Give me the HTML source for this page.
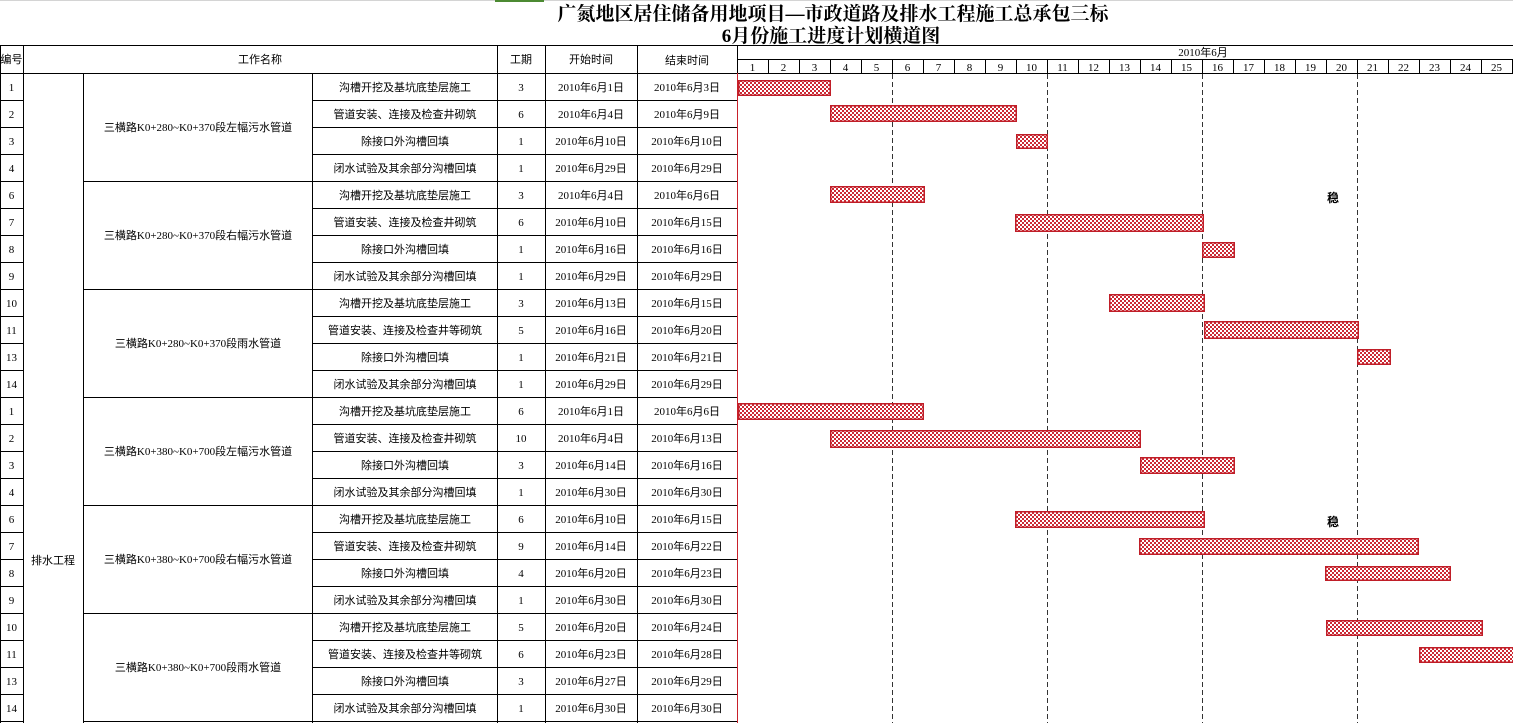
<!DOCTYPE html>
<html><head><meta charset="utf-8">
<style>
html,body{margin:0;padding:0;background:#fff;}
svg{display:block;}
.t{font-family:"Liberation Serif","Noto Sans CJK SC",sans-serif;font-size:11px;fill:#000;text-anchor:middle;}
.h{font-family:"Liberation Serif","Noto Serif CJK SC",serif;font-size:19px;font-weight:bold;fill:#000;text-anchor:middle;}
</style></head>
<body>
<svg width="1513" height="723" viewBox="0 0 1513 723" xmlns="http://www.w3.org/2000/svg">
<defs>
<pattern id="p" width="4" height="4" patternUnits="userSpaceOnUse">
<rect width="4" height="4" fill="#fff"/>
<rect x="0" y="0" width="2" height="2" fill="#cc2a35"/>
<rect x="2" y="2" width="2" height="2" fill="#cc2a35"/>
</pattern>
</defs>
<rect x="0" y="0" width="1513" height="1" fill="#d4d4d4"/>
<rect x="495" y="0" width="49" height="2" fill="#4c8a32"/>

<text class="h" x="833" y="20">广氮地区居住储备用地项目—市政道路及排水工程施工总承包三标</text>
<text class="h" x="831" y="42">6月份施工进度计划横道图</text>

<g stroke="#000" stroke-width="1" shape-rendering="crispEdges" fill="none">
<line x1="0" y1="45.5" x2="1513" y2="45.5"/>
<line x1="0" y1="73.5" x2="1513" y2="73.5"/>
<line x1="737" y1="59.5" x2="1513" y2="59.5"/>
<line x1="0.5" y1="45" x2="0.5" y2="723"/>
<line x1="23.5" y1="45" x2="23.5" y2="723"/>
<line x1="83.5" y1="73" x2="83.5" y2="723"/>
<line x1="312.5" y1="73" x2="312.5" y2="723"/>
<line x1="497.5" y1="45" x2="497.5" y2="723"/>
<line x1="545.5" y1="45" x2="545.5" y2="723"/>
<line x1="637.5" y1="45" x2="637.5" y2="723"/>
<line x1="737.5" y1="45" x2="737.5" y2="73"/>
<line x1="768.5" y1="59" x2="768.5" y2="73"/><line x1="799.5" y1="59" x2="799.5" y2="73"/><line x1="830.5" y1="59" x2="830.5" y2="73"/><line x1="861.5" y1="59" x2="861.5" y2="73"/><line x1="892.5" y1="59" x2="892.5" y2="73"/>
<line x1="923.5" y1="59" x2="923.5" y2="73"/><line x1="954.5" y1="59" x2="954.5" y2="73"/><line x1="985.5" y1="59" x2="985.5" y2="73"/><line x1="1016.5" y1="59" x2="1016.5" y2="73"/><line x1="1047.5" y1="59" x2="1047.5" y2="73"/>
<line x1="1078.5" y1="59" x2="1078.5" y2="73"/><line x1="1109.5" y1="59" x2="1109.5" y2="73"/><line x1="1140.5" y1="59" x2="1140.5" y2="73"/><line x1="1171.5" y1="59" x2="1171.5" y2="73"/><line x1="1202.5" y1="59" x2="1202.5" y2="73"/>
<line x1="1233.5" y1="59" x2="1233.5" y2="73"/><line x1="1264.5" y1="59" x2="1264.5" y2="73"/><line x1="1295.5" y1="59" x2="1295.5" y2="73"/><line x1="1326.5" y1="59" x2="1326.5" y2="73"/><line x1="1357.5" y1="59" x2="1357.5" y2="73"/>
<line x1="1388.5" y1="59" x2="1388.5" y2="73"/><line x1="1419.5" y1="59" x2="1419.5" y2="73"/><line x1="1450.5" y1="59" x2="1450.5" y2="73"/><line x1="1481.5" y1="59" x2="1481.5" y2="73"/><line x1="1512.5" y1="59" x2="1512.5" y2="73"/>
<line x1="0" y1="100.5" x2="23" y2="100.5"/><line x1="312" y1="100.5" x2="737" y2="100.5"/>
<line x1="0" y1="127.5" x2="23" y2="127.5"/><line x1="312" y1="127.5" x2="737" y2="127.5"/>
<line x1="0" y1="154.5" x2="23" y2="154.5"/><line x1="312" y1="154.5" x2="737" y2="154.5"/>
<line x1="0" y1="181.5" x2="23" y2="181.5"/><line x1="83" y1="181.5" x2="737" y2="181.5"/>
<line x1="0" y1="208.5" x2="23" y2="208.5"/><line x1="312" y1="208.5" x2="737" y2="208.5"/>
<line x1="0" y1="235.5" x2="23" y2="235.5"/><line x1="312" y1="235.5" x2="737" y2="235.5"/>
<line x1="0" y1="262.5" x2="23" y2="262.5"/><line x1="312" y1="262.5" x2="737" y2="262.5"/>
<line x1="0" y1="289.5" x2="23" y2="289.5"/><line x1="83" y1="289.5" x2="737" y2="289.5"/>
<line x1="0" y1="316.5" x2="23" y2="316.5"/><line x1="312" y1="316.5" x2="737" y2="316.5"/>
<line x1="0" y1="343.5" x2="23" y2="343.5"/><line x1="312" y1="343.5" x2="737" y2="343.5"/>
<line x1="0" y1="370.5" x2="23" y2="370.5"/><line x1="312" y1="370.5" x2="737" y2="370.5"/>
<line x1="0" y1="397.5" x2="23" y2="397.5"/><line x1="83" y1="397.5" x2="737" y2="397.5"/>
<line x1="0" y1="424.5" x2="23" y2="424.5"/><line x1="312" y1="424.5" x2="737" y2="424.5"/>
<line x1="0" y1="451.5" x2="23" y2="451.5"/><line x1="312" y1="451.5" x2="737" y2="451.5"/>
<line x1="0" y1="478.5" x2="23" y2="478.5"/><line x1="312" y1="478.5" x2="737" y2="478.5"/>
<line x1="0" y1="505.5" x2="23" y2="505.5"/><line x1="83" y1="505.5" x2="737" y2="505.5"/>
<line x1="0" y1="532.5" x2="23" y2="532.5"/><line x1="312" y1="532.5" x2="737" y2="532.5"/>
<line x1="0" y1="559.5" x2="23" y2="559.5"/><line x1="312" y1="559.5" x2="737" y2="559.5"/>
<line x1="0" y1="586.5" x2="23" y2="586.5"/><line x1="312" y1="586.5" x2="737" y2="586.5"/>
<line x1="0" y1="613.5" x2="23" y2="613.5"/><line x1="83" y1="613.5" x2="737" y2="613.5"/>
<line x1="0" y1="640.5" x2="23" y2="640.5"/><line x1="312" y1="640.5" x2="737" y2="640.5"/>
<line x1="0" y1="667.5" x2="23" y2="667.5"/><line x1="312" y1="667.5" x2="737" y2="667.5"/>
<line x1="0" y1="694.5" x2="23" y2="694.5"/><line x1="312" y1="694.5" x2="737" y2="694.5"/>
<line x1="0" y1="721.5" x2="23" y2="721.5"/><line x1="83" y1="721.5" x2="737" y2="721.5"/>
</g>
<line x1="737.5" y1="73" x2="737.5" y2="723" stroke="#c8202a" stroke-width="1" shape-rendering="crispEdges"/>
<g stroke="#333" stroke-width="1" stroke-dasharray="5,3" shape-rendering="crispEdges">
<line x1="892.5" y1="74" x2="892.5" y2="723"/>
<line x1="1047.5" y1="74" x2="1047.5" y2="723"/>
<line x1="1202.5" y1="74" x2="1202.5" y2="723"/>
<line x1="1357.5" y1="74" x2="1357.5" y2="723"/>
</g>

<text class="t" x="11.5" y="63">编号</text>
<text class="t" x="260" y="63">工作名称</text>
<text class="t" x="521" y="63">工期</text>
<text class="t" x="591" y="63">开始时间</text>
<text class="t" x="687" y="64">结束时间</text>
<text class="t" x="1203" y="56">2010年6月</text>
<g class="t">
<text class="t" x="752.5" y="71">1</text><text class="t" x="783.5" y="71">2</text><text class="t" x="814.5" y="71">3</text><text class="t" x="845.5" y="71">4</text><text class="t" x="876.5" y="71">5</text>
<text class="t" x="907.5" y="71">6</text><text class="t" x="938.5" y="71">7</text><text class="t" x="969.5" y="71">8</text><text class="t" x="1000.5" y="71">9</text><text class="t" x="1031.5" y="71">10</text>
<text class="t" x="1062.5" y="71">11</text><text class="t" x="1093.5" y="71">12</text><text class="t" x="1124.5" y="71">13</text><text class="t" x="1155.5" y="71">14</text><text class="t" x="1186.5" y="71">15</text>
<text class="t" x="1217.5" y="71">16</text><text class="t" x="1248.5" y="71">17</text><text class="t" x="1279.5" y="71">18</text><text class="t" x="1310.5" y="71">19</text><text class="t" x="1341.5" y="71">20</text>
<text class="t" x="1372.5" y="71">21</text><text class="t" x="1403.5" y="71">22</text><text class="t" x="1434.5" y="71">23</text><text class="t" x="1465.5" y="71">24</text><text class="t" x="1496.5" y="71">25</text>
</g>

<text class="t" x="53" y="564">排水工程</text>
<text class="t" x="198" y="131">三横路K0+280~K0+370段左幅污水管道</text>
<text class="t" x="198" y="239">三横路K0+280~K0+370段右幅污水管道</text>
<text class="t" x="198" y="347">三横路K0+280~K0+370段雨水管道</text>
<text class="t" x="198" y="455">三横路K0+380~K0+700段左幅污水管道</text>
<text class="t" x="198" y="563">三横路K0+380~K0+700段右幅污水管道</text>
<text class="t" x="198" y="671">三横路K0+380~K0+700段雨水管道</text>

<text class="t" x="11.5" y="91">1</text><text class="t" x="405" y="91">沟槽开挖及基坑底垫层施工</text><text class="t" x="521" y="91">3</text><text class="t" x="591" y="91">2010年6月1日</text><text class="t" x="687" y="91">2010年6月3日</text>
<text class="t" x="11.5" y="118">2</text><text class="t" x="405" y="118">管道安装、连接及检查井砌筑</text><text class="t" x="521" y="118">6</text><text class="t" x="591" y="118">2010年6月4日</text><text class="t" x="687" y="118">2010年6月9日</text>
<text class="t" x="11.5" y="145">3</text><text class="t" x="405" y="145">除接口外沟槽回填</text><text class="t" x="521" y="145">1</text><text class="t" x="591" y="145">2010年6月10日</text><text class="t" x="687" y="145">2010年6月10日</text>
<text class="t" x="11.5" y="172">4</text><text class="t" x="405" y="172">闭水试验及其余部分沟槽回填</text><text class="t" x="521" y="172">1</text><text class="t" x="591" y="172">2010年6月29日</text><text class="t" x="687" y="172">2010年6月29日</text>

<text class="t" x="11.5" y="199">6</text><text class="t" x="405" y="199">沟槽开挖及基坑底垫层施工</text><text class="t" x="521" y="199">3</text><text class="t" x="591" y="199">2010年6月4日</text><text class="t" x="687" y="199">2010年6月6日</text>
<text class="t" x="11.5" y="226">7</text><text class="t" x="405" y="226">管道安装、连接及检查井砌筑</text><text class="t" x="521" y="226">6</text><text class="t" x="591" y="226">2010年6月10日</text><text class="t" x="687" y="226">2010年6月15日</text>
<text class="t" x="11.5" y="253">8</text><text class="t" x="405" y="253">除接口外沟槽回填</text><text class="t" x="521" y="253">1</text><text class="t" x="591" y="253">2010年6月16日</text><text class="t" x="687" y="253">2010年6月16日</text>
<text class="t" x="11.5" y="280">9</text><text class="t" x="405" y="280">闭水试验及其余部分沟槽回填</text><text class="t" x="521" y="280">1</text><text class="t" x="591" y="280">2010年6月29日</text><text class="t" x="687" y="280">2010年6月29日</text>

<text class="t" x="11.5" y="307">10</text><text class="t" x="405" y="307">沟槽开挖及基坑底垫层施工</text><text class="t" x="521" y="307">3</text><text class="t" x="591" y="307">2010年6月13日</text><text class="t" x="687" y="307">2010年6月15日</text>
<text class="t" x="11.5" y="334">11</text><text class="t" x="405" y="334">管道安装、连接及检查井等砌筑</text><text class="t" x="521" y="334">5</text><text class="t" x="591" y="334">2010年6月16日</text><text class="t" x="687" y="334">2010年6月20日</text>
<text class="t" x="11.5" y="361">13</text><text class="t" x="405" y="361">除接口外沟槽回填</text><text class="t" x="521" y="361">1</text><text class="t" x="591" y="361">2010年6月21日</text><text class="t" x="687" y="361">2010年6月21日</text>
<text class="t" x="11.5" y="388">14</text><text class="t" x="405" y="388">闭水试验及其余部分沟槽回填</text><text class="t" x="521" y="388">1</text><text class="t" x="591" y="388">2010年6月29日</text><text class="t" x="687" y="388">2010年6月29日</text>

<text class="t" x="11.5" y="415">1</text><text class="t" x="405" y="415">沟槽开挖及基坑底垫层施工</text><text class="t" x="521" y="415">6</text><text class="t" x="591" y="415">2010年6月1日</text><text class="t" x="687" y="415">2010年6月6日</text>
<text class="t" x="11.5" y="442">2</text><text class="t" x="405" y="442">管道安装、连接及检查井砌筑</text><text class="t" x="521" y="442">10</text><text class="t" x="591" y="442">2010年6月4日</text><text class="t" x="687" y="442">2010年6月13日</text>
<text class="t" x="11.5" y="469">3</text><text class="t" x="405" y="469">除接口外沟槽回填</text><text class="t" x="521" y="469">3</text><text class="t" x="591" y="469">2010年6月14日</text><text class="t" x="687" y="469">2010年6月16日</text>
<text class="t" x="11.5" y="496">4</text><text class="t" x="405" y="496">闭水试验及其余部分沟槽回填</text><text class="t" x="521" y="496">1</text><text class="t" x="591" y="496">2010年6月30日</text><text class="t" x="687" y="496">2010年6月30日</text>

<text class="t" x="11.5" y="523">6</text><text class="t" x="405" y="523">沟槽开挖及基坑底垫层施工</text><text class="t" x="521" y="523">6</text><text class="t" x="591" y="523">2010年6月10日</text><text class="t" x="687" y="523">2010年6月15日</text>
<text class="t" x="11.5" y="550">7</text><text class="t" x="405" y="550">管道安装、连接及检查井砌筑</text><text class="t" x="521" y="550">9</text><text class="t" x="591" y="550">2010年6月14日</text><text class="t" x="687" y="550">2010年6月22日</text>
<text class="t" x="11.5" y="577">8</text><text class="t" x="405" y="577">除接口外沟槽回填</text><text class="t" x="521" y="577">4</text><text class="t" x="591" y="577">2010年6月20日</text><text class="t" x="687" y="577">2010年6月23日</text>
<text class="t" x="11.5" y="604">9</text><text class="t" x="405" y="604">闭水试验及其余部分沟槽回填</text><text class="t" x="521" y="604">1</text><text class="t" x="591" y="604">2010年6月30日</text><text class="t" x="687" y="604">2010年6月30日</text>

<text class="t" x="11.5" y="631">10</text><text class="t" x="405" y="631">沟槽开挖及基坑底垫层施工</text><text class="t" x="521" y="631">5</text><text class="t" x="591" y="631">2010年6月20日</text><text class="t" x="687" y="631">2010年6月24日</text>
<text class="t" x="11.5" y="658">11</text><text class="t" x="405" y="658">管道安装、连接及检查井等砌筑</text><text class="t" x="521" y="658">6</text><text class="t" x="591" y="658">2010年6月23日</text><text class="t" x="687" y="658">2010年6月28日</text>
<text class="t" x="11.5" y="685">13</text><text class="t" x="405" y="685">除接口外沟槽回填</text><text class="t" x="521" y="685">3</text><text class="t" x="591" y="685">2010年6月27日</text><text class="t" x="687" y="685">2010年6月29日</text>
<text class="t" x="11.5" y="712">14</text><text class="t" x="405" y="712">闭水试验及其余部分沟槽回填</text><text class="t" x="521" y="712">1</text><text class="t" x="591" y="712">2010年6月30日</text><text class="t" x="687" y="712">2010年6月30日</text>

<g fill="url(#p)" stroke="#c01e28" stroke-width="1.5">
<rect x="738.75" y="80.75" width="91.5" height="14.5"/>
<rect x="830.75" y="105.75" width="185.5" height="15.5"/>
<rect x="1016.75" y="134.75" width="30.5" height="13.5"/>
<rect x="830.75" y="186.75" width="93.5" height="15.5"/>
<rect x="1015.75" y="214.75" width="187.5" height="16.5"/>
<rect x="1202.75" y="242.75" width="31.5" height="14.5"/>
<rect x="1109.75" y="294.75" width="94.5" height="16.5"/>
<rect x="1204.75" y="321.75" width="153.5" height="16.5"/>
<rect x="1357.75" y="349.75" width="32.5" height="14.5"/>
<rect x="738.75" y="403.75" width="184.5" height="15.5"/>
<rect x="830.75" y="430.75" width="309.5" height="16.5"/>
<rect x="1140.75" y="457.75" width="93.5" height="15.5"/>
<rect x="1015.75" y="511.75" width="188.5" height="15.5"/>
<rect x="1139.75" y="538.75" width="278.5" height="15.5"/>
<rect x="1325.75" y="566.75" width="124.5" height="13.5"/>
<rect x="1326.75" y="620.75" width="155.5" height="14.5"/>
<rect x="1419.75" y="647.75" width="100" height="14.5"/>
</g>

<text class="t" x="1333" y="202" style="font-size:12px;font-weight:bold">稳</text>
<text class="t" x="1333" y="526" style="font-size:12px;font-weight:bold">稳</text>
</svg>
</body></html>
